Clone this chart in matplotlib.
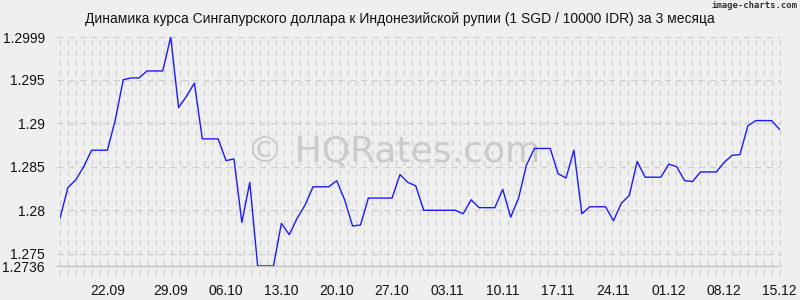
#!/usr/bin/env python3
"""SGD/IDR rate over 3 months, image-charts style line chart."""

import numpy as np
import matplotlib
matplotlib.use("Agg")
import matplotlib.pyplot as plt
from matplotlib.transforms import blended_transform_factory

# daily rate, 1 SGD / 10000 IDR
rate = [
    1.2791, 1.2826, 1.2835, 1.2850, 1.2869, 1.2869, 1.2869, 1.2904, 1.2950, 1.2952,
    1.2952, 1.2960, 1.2960, 1.2960, 1.2999, 1.2918, 1.2931, 1.2946, 1.2882, 1.2882,
    1.2882, 1.2857, 1.2859, 1.2786, 1.2832, 1.2736, 1.2736, 1.2736, 1.2785, 1.2772,
    1.2791, 1.2806, 1.2827, 1.2827, 1.2827, 1.2834, 1.2812, 1.2782, 1.2783, 1.2814,
    1.2814, 1.2814, 1.2814, 1.2841, 1.2832, 1.2828, 1.2800, 1.2800, 1.2800, 1.2800,
    1.2800, 1.2796, 1.2812, 1.2803, 1.2803, 1.2803, 1.2824, 1.2792, 1.2814, 1.2852,
    1.2871, 1.2871, 1.2871, 1.2842, 1.2837, 1.2869, 1.2796, 1.2804, 1.2804, 1.2804,
    1.2788, 1.2808, 1.2817, 1.2856, 1.2838, 1.2838, 1.2838, 1.2853, 1.2850, 1.2834,
    1.2833, 1.2844, 1.2844, 1.2844, 1.2855, 1.2863, 1.2864, 1.2897, 1.2903, 1.2903,
    1.2903, 1.2893,
]

date_labels = ['22.09', '29.09', '06.10', '13.10', '20.10', '27.10', '03.11',
               '10.11', '17.11', '24.11', '01.12', '08.12', '15.12']
date_idx = [6, 14, 21, 28, 35, 42, 49, 56, 63, 70, 77, 84, 91]

y_ticks = [1.2736, 1.275, 1.28, 1.285, 1.29, 1.295, 1.2999]
y_labels = ['1.2736', '1.275', '1.28', '1.285', '1.29', '1.295', '1.2999']

title = 'Динамика курса Сингапурского доллара к Индонезийской рупии (1 SGD / 10000 IDR) за 3 месяца'

BG = '#efefef'
GRID = '#cfcfcf'

plt.rcParams['font.family'] = ['Liberation Sans', 'DejaVu Sans']

fig = plt.figure(figsize=(8, 3), dpi=100, facecolor=BG)
ax = fig.add_axes([60 / 800, 1 - 266 / 300, 719.5 / 800, 229 / 300])
ax.set_facecolor(BG)

n = len(rate)
x = np.arange(n)
ax.set_xlim(0, n - 1)
ax.set_ylim(y_ticks[0], y_ticks[-1])

# vertical dashed grid, one line every ~8 px, poking a bit below the axis
xt = blended_transform_factory(ax.transData, ax.transAxes)
for gx in np.linspace(0, n - 1, 91):
    ax.plot([gx, gx], [-9 / 229, 1], transform=xt, color=GRID, lw=0.9,
            dashes=(4, 4), clip_on=False, zorder=1)

# horizontal dashed grid at the y ticks
yt = blended_transform_factory(ax.transAxes, ax.transData)
for gy in y_ticks:
    if gy == y_ticks[0]:
        ax.plot([-3 / 720, 1], [gy, gy], transform=yt, color='#c4c4c4', lw=1.0,
                clip_on=False, zorder=1)
    else:
        ax.plot([-3 / 720, 1], [gy, gy], transform=yt, color=GRID, lw=0.9,
                dashes=(5, 4), clip_on=False, zorder=1)

# watermark
ax.text(0.463, 0.5, '© HQRates.com', transform=ax.transAxes, fontsize=26,
        color='#cbcbcb', ha='center', va='center', zorder=2,
        family=['DejaVu Sans'])

ax.plot(x, rate, color='#1a1aff', lw=1.0, zorder=3)

for s in ax.spines.values():
    s.set_visible(False)

ax.set_xticks(date_idx)
ax.set_xticklabels(date_labels)
ax.set_yticks(y_ticks)
ax.set_yticklabels(y_labels)
ax.tick_params(axis='both', length=0, labelsize=10, colors='#111111')
ax.tick_params(axis='x', pad=13)
ax.tick_params(axis='y', pad=11)

fig.text(0.5, 1 - 19.5 / 300, title, ha='center', va='center', fontsize=10,
         color='#111111')
fig.text(797 / 800, 1 - 6 / 300, 'image-charts.com', ha='right', va='center',
         fontsize=6.5, color='#333333', family=['DejaVu Sans Mono'],
         fontweight='bold')

fig.savefig('out.png', dpi=100, facecolor=BG)
